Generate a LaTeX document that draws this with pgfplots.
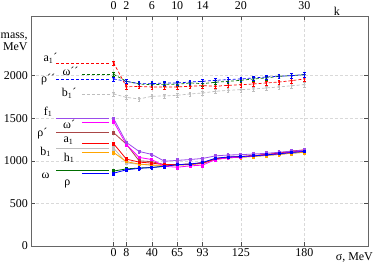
\documentclass[border=0pt]{standalone}
\usepackage{fontspec}
\setmainfont{Liberation Serif}
\usepackage{pgfplots}
\usepackage{pgfplotstable}
\pgfplotsset{compat=1.18}

\definecolor{cpurple}{RGB}{155,75,235}
\definecolor{cmagenta}{RGB}{255,0,255}
\definecolor{cbrown}{RGB}{170,70,70}
\definecolor{cred}{RGB}{255,0,0}
\definecolor{cgray}{RGB}{190,190,190}
\definecolor{corange}{RGB}{255,165,0}
\definecolor{cgreen}{RGB}{0,110,0}
\definecolor{cblue}{RGB}{0,0,255}

\pgfplotstableread{
k  fone omp  rhop aone bone hone om   rho  ap   omdd rhodd bp
0  1495 1460 1330 1200 1150 1098 880  855  2149 2015 1961 1785
2  1216 1190 1195 1020 975  990  905  894  1870 1933 1933 1745
4  1110 1040 1000 985  960  962  915  912  1872 1902 1906 1726
6  1075 1015 990  973  950  950  922  921  1867 1894 1906 1757
8  995  935  955  955  945  945  938  935  1867 1898 1914 1762
10 1005 925  955  955  950  950  955  955  1867 1898 1914 1769
12 1015 940  960  960  955  955  960  962  1875 1914 1925 1785
14 1028 950  975  975  970  970  976  980  1882 1906 1933 1796
16 1058 1015 1022 1025 1018 1018 1025 1030 1875 1922 1945 1816
18 1068 1035 1040 1042 1035 1035 1040 1045 1886 1933 1953 1827
20 1072 1045 1048 1050 1042 1042 1045 1050 1894 1945 1961 1835
22 1080 1058 1058 1062 1052 1052 1055 1058 1902 1961 1973 1843
24 1088 1070 1070 1075 1063 1063 1065 1070 1914 1973 1984 1855
26 1100 1085 1085 1090 1075 1075 1078 1082 1925 1992 1992 1867
28 1114 1100 1105 1115 1090 1090 1092 1098 1941 2000 2000 1882
30 1126 1115 1118 1128 1100 1100 1102 1110 1961 2012 2012 1894
}\data

\pgfplotsset{
  low/.style={solid, line width=0.8pt, mark=square*, mark size=1pt,
    error bars/.cd, y dir=both, y fixed=20,
    error bar style={line width=0.5pt}, error mark options={rotate=90, mark size=1.3pt},
    /pgfplots/.cd},
  up/.style={densely dashed, line width=0.7pt, mark=*, mark size=0.7pt,
    mark options={solid},
    error bars/.cd, y dir=both, y fixed=25,
    error bar style={solid, line width=0.5pt}, error mark options={solid, rotate=90, mark size=1.3pt},
    /pgfplots/.cd},
  legl/.style={solid, line width=1pt, mark=none, forget plot},
  legu/.style={densely dashed, line width=0.8pt, mark=none, forget plot},
}
\tikzset{toplab/.style={anchor=base, inner sep=0pt, font=\fontsize{12}{13}\selectfont, yshift=6bp}}

\begin{document}
\begin{tikzpicture}
\begin{axis}[
  scale only axis, width=337bp, height=230bp,
  xmin=-13, xmax=40, ymin=0, ymax=2700,
  xtick={0,2,6,10,14,20,30}, xticklabels={0,8,40,65,93,125,180},
  ytick={0,500,1000,1500,2000},
  grid=major, grid style={densely dashed, black!15, line width=0.4pt},
  axis line style={black!60, line width=0.8pt},
  tick style={black!70, line width=0.5pt}, major tick length=4bp,
  tick align=inside,
  clip=false,
  font=\fontsize{12}{13}\selectfont,
  tick label style={font=\fontsize{12}{13}\selectfont},
  yticklabel style={inner sep=3bp},
  xticklabel style={inner sep=2bp},
  /pgf/number format/assume math mode=true,
  /pgf/number format/1000 sep={},
]
% upper group
\addplot[color=cgray, draw=cgray, up] table[x=k, y=bp] {\data};
\addplot[color=cred, draw=cred, up] table[x=k, y=ap] {\data};
\addplot[color=cgreen, draw=cgreen, up] table[x=k, y=omdd] {\data};
\addplot[color=cblue, draw=cblue, up] table[x=k, y=rhodd] {\data};
% lower group
\addplot[color=cgreen, low] table[x=k, y=om] {\data};
\addplot[color=cgray, low] table[x=k, y=bone] {\data};
\addplot[color=corange, low] table[x=k, y=hone] {\data};
\addplot[color=cbrown, low] table[x=k, y=rhop] {\data};
\addplot[color=cred, low] table[x=k, y=aone] {\data};
\addplot[color=cmagenta, low] table[x=k, y=omp] {\data};
\addplot[color=cpurple, low] table[x=k, y=fone] {\data};
\addplot[color=cblue, low] table[x=k, y=rho] {\data};

% label lines
\addplot[draw=cred, legu] coordinates {(-9,2149) (-0.5,2149)};
\addplot[draw=cgreen, legu] coordinates {(-5,2015) (-0.5,2015)};
\addplot[draw=cblue, legu] coordinates {(-9,1961) (-0.5,1961)};
\addplot[draw=cgray, legu] coordinates {(-5,1785) (-0.5,1785)};
\addplot[draw=cpurple, legl] coordinates {(-9,1500) (-0.8,1500)};
\addplot[draw=cmagenta, legl] coordinates {(-5,1451) (-0.8,1451)};
\addplot[draw=cbrown, legl] coordinates {(-9,1333) (-0.8,1333)};
\addplot[draw=cred, legl] coordinates {(-5,1200) (-0.8,1200)};
\addplot[draw=cgray, legl] coordinates {(-9,1149) (-0.8,1149)};
\addplot[draw=corange, legl] coordinates {(-5,1098) (-0.8,1098)};
\addplot[draw=cgreen, legl] coordinates {(-9,882) (-0.8,882)};
\addplot[draw=cblue, legl] coordinates {(-5,855) (-0.8,855)};

% labels
\begin{scope}[every node/.style={font=\fontsize{12}{13}\selectfont, inner sep=0pt}]
\node at (axis cs:-9.95,2205) {a\textsubscript{1}´};
\node at (axis cs:-6.8,2050) {ω´´};
\node at (axis cs:-10.3,1950) {ρ´´};
\node at (axis cs:-7.0,1790) {b\textsubscript{1}´};
\node at (axis cs:-10.3,1575) {f\textsubscript{1}};
\node at (axis cs:-7.0,1425) {ω´};
\node at (axis cs:-11.2,1315) {ρ´};
\node at (axis cs:-7.1,1235) {a\textsubscript{1}};
\node at (axis cs:-10.7,1105) {b\textsubscript{1}};
\node at (axis cs:-7.0,1035) {h\textsubscript{1}};
\node at (axis cs:-10.7,822) {ω};
\node at (axis cs:-7.3,728) {ρ};
\end{scope}
\node[toplab] at (axis cs:0,2700) {0};
\node[toplab] at (axis cs:2,2700) {2};
\node[toplab] at (axis cs:6,2700) {6};
\node[toplab] at (axis cs:10,2700) {10};
\node[toplab] at (axis cs:14,2700) {14};
\node[toplab] at (axis cs:20,2700) {20};
\node[toplab] at (axis cs:30,2700) {30};
\node[anchor=base, inner sep=0pt, font=\fontsize{12}{13}\selectfont] at (axis cs:35.1,2700) [yshift=0.5bp] {k};
\node[anchor=east, align=right, inner sep=0pt, font=\fontsize{12}{11.5}\selectfont] at (axis cs:-13.5,2400) {mass,\\MeV};
\node[anchor=east, inner sep=0pt, font=\fontsize{12}{13}\selectfont] at (axis cs:40.8,-130) {σ, MeV};
\end{axis}
\pgfresetboundingbox
\path (current axis.south west) ++(-31bp,-17bp) rectangle ([xshift=7bp,yshift=16bp]current axis.north east);
\end{tikzpicture}
\end{document}
